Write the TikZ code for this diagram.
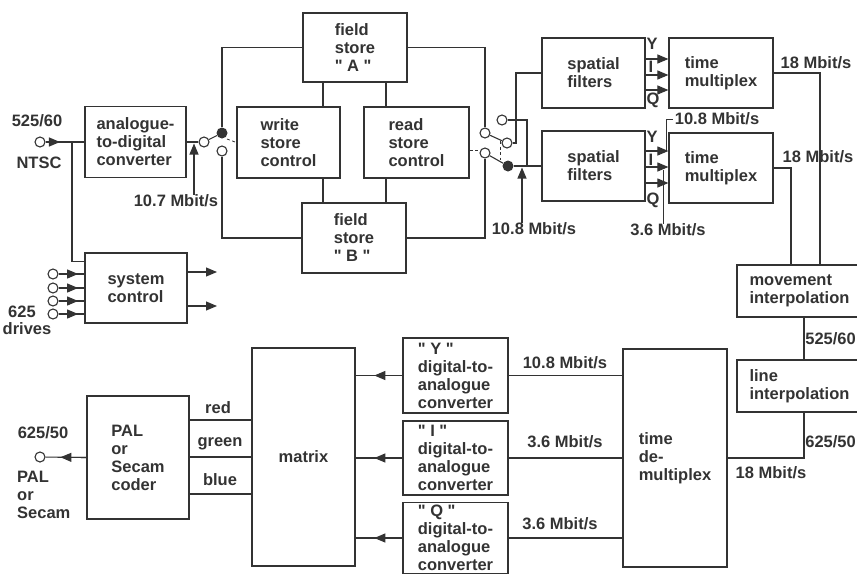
\documentclass[tikz,border=0pt]{standalone}
\usepackage{fontspec}
\setmainfont{Liberation Sans}[Ligatures=TeXOff]
\usetikzlibrary{arrows.meta,calc}

\tikzset{
  box/.style={draw, line width=1.2pt, inner sep=0pt, align=left},
  wire/.style={line width=1.1pt},
  tip/.style={-{Triangle[length=11pt,width=9pt]}},
  term/.style={circle, draw, line width=1.1pt, fill=white, inner sep=0pt, minimum size=10pt},
  contact/.style={circle, fill, inner sep=0pt, minimum size=11pt},
  link/.style={line width=0.8pt, dash pattern=on 3pt off 2.5pt},
  lbl/.style={inner sep=0pt, align=left},
}

\begin{document}
\begin{tikzpicture}[x=1pt, y=-1pt, color=black!80,
    font=\fontsize{16.5}{18}\selectfont\bfseries]

  \useasboundingbox (0,0) rectangle (857,574);

  % Input side
  \node[box, minimum width=101pt, minimum height=71pt] (adc) at (135.5,142) {analogue-\\to-digital\\converter};
  \node[box, minimum width=102pt, minimum height=70pt] (sysctl) at (136,288) {system\\control};

  % Field stores and controls
  \node[box, minimum width=104pt, minimum height=69pt] (storeA) at (355,47.5) {field\\store\\" A "};
  \node[box, minimum width=103pt, minimum height=71pt] (wrctl) at (288.5,142.5) {write\\store\\control};
  \node[box, minimum width=105pt, minimum height=71pt] (rdctl) at (416.5,142.5) {read\\store\\control};
  \node[box, minimum width=104pt, minimum height=70pt] (storeB) at (354,238) {field\\store\\" B "};

  % Filters and multiplexers
  \node[box, minimum width=103pt, minimum height=70pt] (sfA) at (593.5,73) {spatial\\filters};
  \node[box, minimum width=103pt, minimum height=70pt] (sfB) at (593.5,166) {spatial\\filters};
  \node[box, minimum width=104pt, minimum height=70pt] (tmA) at (721,73) {time\\multiplex};
  \node[box, minimum width=104pt, minimum height=70pt] (tmB) at (721,168) {time\\multiplex};

  % Standards conversion
  \node[box, minimum width=125pt, minimum height=52pt] (movint) at (799.5,291) {movement\\interpolation};
  \node[box, minimum width=125pt, minimum height=52pt] (lineint) at (799.5,386) {line\\interpolation};

  % Output side
  \node[box, minimum width=104pt, minimum height=218pt] (tdm) at (675,458) {time\\de-\\multiplex};
  \node[box, minimum width=105pt, minimum height=75pt] (dacY) at (455.5,375.5) {" Y "\\digital-to-\\analogue\\converter};
  \node[box, minimum width=105pt, minimum height=74pt] (dacI) at (455.5,458) {" I "\\digital-to-\\analogue\\converter};
  \node[box, minimum width=105pt, minimum height=71pt] (dacQ) at (455.5,538) {" Q "\\digital-to-\\analogue\\converter};
  \node[box, minimum width=103pt, minimum height=218pt] (matrix) at (303.5,457) {matrix};
  \node[box, minimum width=102pt, minimum height=123pt] (coder) at (138,457.5) {PAL\\or\\Secam\\coder};

  % Terminals and switches
  \node[term] (inNTSC) at (40,142) {};
  \node[term] (outPAL) at (40,457) {};
  \node[term] (swc) at (204,142) {};
  \node[contact] (swA) at (222,133) {};
  \node[term] (swB) at (222,151) {};
  \node[term] (swH) at (502,120) {};
  \node[term] (swD) at (485,133) {};
  \node[term] (swF) at (507,143) {};
  \node[term] (swE) at (485,153) {};
  \node[contact] (swG) at (508,166) {};

  \coordinate (br) at (72,142);
  \coordinate (tap107) at (194,143.5);
  \coordinate (tap108) at (522,167.5);
  \coordinate (upA) at (516,73);
  \coordinate (jn) at (527,166);
  \coordinate (xw) at (323,0);
  \coordinate (xr) at (386,0);
  \coordinate (xa) at (820,0);
  \coordinate (xb) at (791,0);
  \coordinate (xc) at (804,0);
  \coordinate (lkY) at (666,151);
  \coordinate (lkQ) at (663,170);

  % Input wiring
  \draw[wire] (inNTSC) -- (adc.west);
  \draw[wire, tip] (inNTSC) -- ($(inNTSC)!0.45!(adc.west)$);
  \draw[wire] (br) |- ([yshift=-9pt]sysctl.north west);
  \foreach \y/\n in {274/1, 288/2, 301/3, 314/4} {
    \node[term] (drv\n) at (53,\y) {};
    \draw[wire] (drv\n) -- (drv\n -| sysctl.west);
    \draw[wire, tip] (drv\n) -- ($(drv\n)!0.8!(drv\n -| sysctl.west)$);
  }
  \foreach \y/\n in {272/1, 306/2} {
    \coordinate (ctl\n) at (217,\y);
    \draw[wire, tip] (ctl\n -| sysctl.east) -- (ctl\n);
  }

  % Write switch
  \draw[wire] (adc.east) -- (swc);
  \draw[wire] (swc) -- (swA);
  \draw[wire] (swA) |- (storeA.west);
  \draw[wire] (swB) |- (storeB.west);
  \draw[link] (227,139) -- (wrctl.west);

  % Store connections
  \draw[wire] (storeA.south -| xw) -- (wrctl.north -| xw);
  \draw[wire] (storeA.south -| xr) -- (rdctl.north -| xr);
  \draw[wire] (wrctl.south -| xw) -- (storeB.north -| xw);
  \draw[wire] (rdctl.south -| xr) -- (storeB.north -| xr);

  % Read switch
  \draw[wire] (storeA.east) -| (swD);
  \draw[wire] (storeB.east) -| (swE);
  \draw[wire] (swD) -- (swF);
  \draw[wire] (swE) -- (swG);
  \draw[wire] (swF) -| (upA) -- (sfA.west);
  \draw[wire] (swG) -- (sfB.west);
  \draw[wire] (swH) -| (jn);
  \draw[link] (500,141) -- (500,160);
  \draw[link] ([yshift=-7.5pt]rdctl.east) -- (480,150);

  % Y, I, Q outputs
  \foreach \dy in {14,-2,-17} {
    \draw[wire, tip] ([yshift=\dy pt]sfA.east) -- ([yshift=\dy pt]sfA.east -| tmA.west);
  }
  \foreach \dy in {15,-1,-17} {
    \draw[wire, tip] ([yshift=\dy pt]sfB.east) -- ([yshift=\dy pt]sfB.east -| tmB.west);
  }
  \node[lbl] (yA) at (652,44) {Y};
  \node[lbl] (iA) at (651,67) {I};
  \node[lbl] (qA) at (653,100) {Q};
  \node[lbl] (yB) at (652,137) {Y};
  \node[lbl] (iB) at (651,160) {I};
  \node[lbl] (qB) at (653,200) {Q};

  % Multiplexed outputs
  \draw[wire] (tmA.east) -| (movint.north -| xa);
  \draw[wire] (tmB.east) -| (movint.north -| xb);
  \draw[wire] (movint.south -| xc) -- (lineint.north -| xc);
  \draw[wire] (lineint.south -| xc) |- (tdm.east);

  % Decoding
  \draw[wire] (tdm.west |- dacY.east) -- (dacY.east);
  \draw[wire] (tdm.west |- dacI.east) -- (dacI.east);
  \draw[wire] (tdm.west |- dacQ.east) -- (dacQ.east);
  \foreach \d in {dacY, dacI, dacQ} {
    \draw[wire] (\d.west) -- (\d.west -| matrix.east);
    \draw[wire, tip] (\d.west) -- ($(\d.west)!0.6!(\d.west -| matrix.east)$);
  }
  \foreach \dy in {37,0,-37} {
    \draw[wire] ([yshift=\dy pt]matrix.west) -- ([yshift=\dy pt]matrix.west -| coder.east);
  }
  \draw[wire] (coder.west) -- (outPAL);
  \draw[wire, tip] (coder.west) -- ($(coder.west)!0.56!(outPAL)$);

  % Labels
  \node[lbl] (ntscA) at (37,121) {525/60};
  \node[lbl] (ntscB) at (39,163) {NTSC};
  \node[lbl] (drvA) at (22,312) {625};
  \node[lbl] (drvB) at (27,329) {drives};
  \node[lbl] (r107) at (176,201) {10.7 Mbit/s};
  \draw[wire, tip] (r107.north -| tap107) -- (tap107);
  \node[lbl] (r108a) at (534,229) {10.8 Mbit/s};
  \draw[wire, tip] (r108a.north -| tap108) -- (tap108);
  \node[lbl] (r108b) at (717,119) {10.8 Mbit/s};
  \draw[line width=0.8pt] ([xshift=-2pt]r108b.west) -| (lkY);
  \node[lbl] (r36) at (668,230) {3.6 Mbit/s};
  \draw[line width=0.8pt] (r36.north -| lkQ) -- (lkQ);
  \node[lbl] (r18a) at (816,63) {18 Mbit/s};
  \node[lbl] (r18b) at (818,157) {18 Mbit/s};
  \node[lbl, anchor=east] (f525) at (856,339) {525/60};
  \node[lbl, anchor=east] (f625) at (856,442) {625/50};
  \node[lbl] (r18c) at (771,473) {18 Mbit/s};
  \node[lbl] (rY) at (565,363) {10.8 Mbit/s};
  \node[lbl] (rI) at (565,442) {3.6 Mbit/s};
  \node[lbl] (rQ) at (560,524) {3.6 Mbit/s};
  \node[lbl] (cR) at (218,408) {red};
  \node[lbl] (cG) at (220,444) {green};
  \node[lbl] (cB) at (220,480) {blue};
  \node[lbl] (oA) at (43,433) {625/50};
  \node[lbl, anchor=west] (oB) at (17,495) {PAL\\or\\Secam};

\end{tikzpicture}
\end{document}
